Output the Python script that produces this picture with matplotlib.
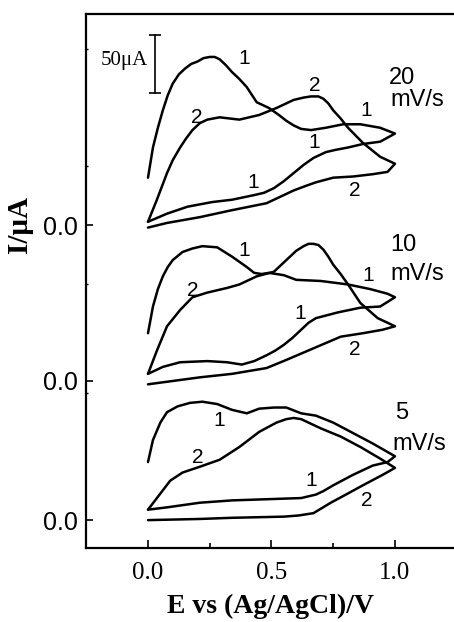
import numpy as np
import matplotlib
matplotlib.use("Agg")
import matplotlib.pyplot as plt
from matplotlib.ticker import FixedLocator

# offsets of the three voltammograms (uA)
offsets = {"5": 0, "10": 120, "20": 254}

# 20 mV/s
e20_c1 = [0, .02, .04, .06, .08, .10, .125, .15, .175, .20, .225, .25, .27, .29, .315, .34, .37, .40, .44, .47, .49, .53, .56, .59, .62, .66, .72, .79, .86, .94, 1.0,
          .94, .87, .81, .76, .72, .67, .63, .59, .55, .51, .47, .43, .34, .26, .16, .077, 0]
i20_c1 = [41, 67, 84, 99, 112, 122, 130, 135, 139, 141, 144, 145, 145, 143, 138, 132, 126, 119, 106, 103, 101, 95, 90, 86, 83, 82, 84, 87, 87, 84, 79,
          72, 70, 67, 65, 63, 58, 52, 45, 38, 32, 28, 26, 22, 20, 16, 10, 3]
e20_c2 = [0, .036, .077, .10, .13, .155, .18, .21, .24, .29, .37, .45, .52, .59, .63, .66, .69, .71, .73, .75, .78, .81, .87, .94, 1.0,
          .97, .91, .83, .75, .68, .64, .59, .54, .48, .41, .34, .21, .077, 0]
i20_c2 = [3, 22, 45, 56, 67, 75, 82, 88, 91, 93, 91, 95, 101, 108, 110, 111, 111, 109, 105, 99, 92, 84, 71, 59, 53,
          46, 44, 42, 41, 37, 34, 30, 25, 19, 16, 13, 7, 2, -2]

# 10 mV/s
e10_c1 = [0, .02, .04, .06, .08, .10, .14, .18, .22, .28, .34, .40, .43, .46, .49, .55, .60, .70, .81, .90, .97, 1.0,
          .94, .86, .77, .68, .65, .62, .585, .55, .515, .48, .43, .38, .32, .24, .13, .06, 0]
i10_c1 = [41, 64, 79, 90, 98, 104, 111, 114, 116, 115, 107, 98, 93, 92, 93, 91, 87, 86, 83, 79, 75, 72,
          64, 63, 59, 54, 50, 44, 37, 31, 26, 22, 17, 14, 16, 17, 16, 12, 6]
e10_c2 = [0, .036, .077, .13, .18, .24, .32, .37, .44, .51, .57, .60, .63, .65, .67, .69, .71, .73, .75, .78, .81, .86, .93, 1.0,
          .95, .87, .78, .67, .56, .48, .34, .21, 0]
i10_c2 = [6, 26, 47, 61, 72, 76, 80, 83, 90, 94, 106, 112, 116, 118, 118, 117, 113, 107, 100, 92, 83, 67, 54, 47,
          44, 41, 38, 28, 18, 11, 6, 3, -3]

# 5 mV/s
e5_c1 = [0, .02, .05, .077, .12, .17, .22, .28, .34, .40, .45, .51, .56, .62, .68, .75, .83, .91, 1.0,
         .97, .91, .83, .75, .71, .68, .62, .48, .34, .21, .077, 0]
i5_c1 = [50, 69, 84, 93, 98, 101, 102, 100, 95, 92, 96, 97, 97, 92, 90, 84, 75, 66, 55,
         50, 47, 39, 30, 25, 22, 19, 18, 17, 15, 11, 9]
e5_c2 = [0, .036, .09, .14, .21, .29, .37, .45, .52, .56, .59, .62, .64, .70, .78, .86, .94, 1.0,
         .95, .87, .81, .74, .67, .61, .55, .34, .21, 0]
i5_c2 = [9, 19, 34, 41, 46, 52, 63, 76, 84, 87, 88, 87, 85, 79, 72, 63, 53, 45,
         39, 30, 23, 15, 6, 4, 3, 2, 1, 0]

curves = [("20", e20_c1, i20_c1), ("20", e20_c2, i20_c2),
          ("10", e10_c1, i10_c1), ("10", e10_c2, i10_c2),
          ("5", e5_c1, i5_c1), ("5", e5_c2, i5_c2)]

# cycle number labels (E, I absolute)
cycle_labels = [("1", .39, 398), ("2", .198, 347), ("2", .676, 374), ("1", .883, 353),
                ("1", .672, 325), ("1", .425, 291), ("2", .838, 284),
                ("1", .389, 232), ("2", .182, 198), ("1", .89, 211), ("1", .615, 178), ("2", .838, 147),
                ("1", .29, 86), ("2", .20, 54), ("1", .66, 34), ("2", .887, 17)]
rate_labels = [("20", .975, 381), ("mV/s", .98, 362),
               ("10", .98, 237), ("mV/s", .98, 212),
               ("5", 1.0, 92), ("mV/s", .99, 66)]

fig = plt.figure(figsize=(4.54, 6.22), dpi=100)
ax = fig.add_axes([0.19, 0.119, 0.816, 0.8585])

for key, e, i in curves:
    ax.plot(e, np.array(i) + offsets[key], color="black", lw=1.8,
            solid_joinstyle="round", solid_capstyle="round")

for txt, x, y in cycle_labels:
    ax.text(x, y, txt, fontsize=15, family="Liberation Sans", ha="center", va="center")
for txt, x, y in rate_labels:
    ax.text(x, y, txt, fontsize=17, family="Liberation Sans", ha="left", va="center")

# scale bar 50 uA
ax.plot([0.028, 0.028], [368, 418], color="black", lw=1.2, marker="_", ms=8, mew=1.2)
ax.text(0.0, 396, "50\u03bcA", fontsize=15, family="Liberation Serif", ha="right", va="center")

ax.set_xlim(-0.25, 1.25)
ax.set_ylim(-24, 436)

ax.set_xticks([0.0, 0.5, 1.0])
ax.set_xticklabels(["0.0", "0.5", "1.0"], family="Liberation Serif", fontsize=18)
ax.xaxis.set_minor_locator(FixedLocator([0.25, 0.75]))
ax.set_yticks([0, offsets["10"], offsets["20"]])
ax.set_yticklabels(["0.0", "0.0", "0.0"], family="Liberation Sans", fontsize=18)
ax.yaxis.set_minor_locator(FixedLocator([109.5, 203, 305, 406]))

ax.tick_params(axis="x", which="major", direction="in", length=6, width=1.2, pad=10)
ax.tick_params(axis="x", which="minor", direction="in", length=3.5, width=1.2)
ax.tick_params(axis="y", which="major", direction="in", length=5, width=1.2, pad=6)
ax.tick_params(axis="y", which="minor", direction="in", length=1.5, width=1.0)

for s in ["left", "bottom", "top"]:
    ax.spines[s].set_linewidth(1.6)
ax.spines["right"].set_visible(False)

ax.set_xlabel("E vs (Ag/AgCl)/V", family="Liberation Serif", fontweight="bold", fontsize=20)
ax.xaxis.set_label_coords(0.496, -0.086)
ax.set_ylabel("I/\u03bcA", family="Liberation Serif", fontweight="bold", fontsize=21)
ax.yaxis.set_label_coords(-0.145, 0.605)

fig.savefig("out.png", dpi=100)
